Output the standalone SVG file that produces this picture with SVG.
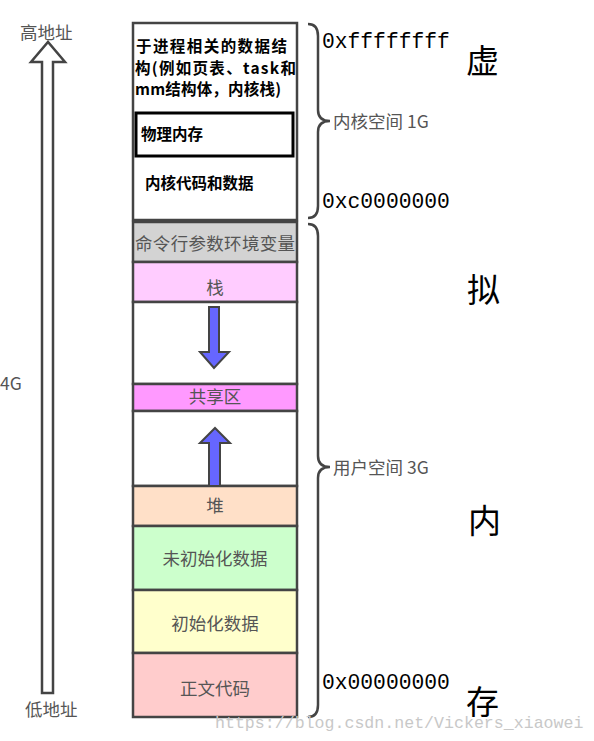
<svg xmlns="http://www.w3.org/2000/svg" width="594" height="741" viewBox="0 0 594 741">
<style>
.box{stroke:#444;stroke-width:2.5}
.lbl{font-family:"Noto Sans CJK SC","Noto Sans",sans-serif;font-size:17.5px;fill:#555;text-anchor:middle}
.kt{font-family:"Noto Sans CJK SC",sans-serif;font-size:15.5px;font-weight:bold;fill:#000}
.hex{font-family:"Liberation Mono","Noto Sans CJK SC",monospace;font-size:21.3px;fill:#000}
.big{font-family:"Noto Sans CJK SC",sans-serif;font-size:33px;fill:#000}
.side{font-family:"Noto Sans CJK SC","Noto Sans",sans-serif;font-size:17.5px;fill:#555}
.brace{fill:none;stroke:#444;stroke-width:2.5}
.arr{fill:#6666ff;stroke:#444;stroke-width:2}
</style>
<rect width="594" height="741" fill="#fff"/>
<g id="kernel">
<rect class="box" x="133" y="23" width="164" height="197" fill="#fff"/>
<text class="kt" x="136" y="52" textLength="151">于进程相关的数据结</text>
<text class="kt" x="135" y="74" textLength="161">构(例如页表、task和</text>
<text class="kt" x="135" y="95" textLength="146">mm结构体，内核栈)</text>
</g>
<g id="phys">
<rect x="136" y="113" width="157" height="43" fill="#fff" stroke="#000" stroke-width="3"/>
<text class="kt" x="141" y="140">物理内存</text>
</g>
<g id="kcode"><text class="kt" x="145" y="189">内核代码和数据</text></g>
<g id="env"><rect class="box" x="133" y="222" width="164" height="40" fill="#d3d3d3"/><text class="lbl" x="215" y="250" textLength="160">命令行参数环境变量</text></g>
<g id="stack"><rect class="box" x="133" y="262" width="164" height="40" fill="#ffccff"/><text class="lbl" x="215" y="294">栈</text></g>
<g id="gap1"><rect class="box" x="133" y="302" width="164" height="82" fill="#fff"/></g>
<g id="shared"><rect class="box" x="133" y="384" width="164" height="27" fill="#ff99ff"/><text class="lbl" x="215" y="403">共享区</text></g>
<g id="gap2"><rect class="box" x="133" y="411" width="164" height="75" fill="#fff"/></g>
<g id="heap"><rect class="box" x="133" y="486" width="164" height="40" fill="#ffe0c8"/><text class="lbl" x="215" y="512">堆</text></g>
<g id="bss"><rect class="box" x="133" y="526" width="164" height="64" fill="#ccffcc"/><text class="lbl" x="215" y="565">未初始化数据</text></g>
<g id="data"><rect class="box" x="133" y="590" width="164" height="63" fill="#ffffcc"/><text class="lbl" x="215" y="630">初始化数据</text></g>
<g id="text"><rect class="box" x="133" y="653" width="164" height="64" fill="#ffcccc"/><text class="lbl" x="215" y="695">正文代码</text></g>
<g id="connectors">
<path class="arr" d="M209 307 H219 V352 H229 L214 368 L200 352 H209 Z"/>
<path class="arr" d="M209 486 V443 H200 L215 428 L230 443 H220 V486 Z"/>
<path d="M42 693 V62 H31 L48 42 L65 62 H53 V693 Z" fill="#fff" stroke="#444" stroke-width="2.5"/>
<path class="brace" d="M308 24 Q318 24 318 36 V110 Q318 121 330 121 Q318 121 318 132 V206 Q318 218 308 218"/>
<path class="brace" d="M308 224 Q318 224 318 236 V456 Q318 467 330 467 Q318 467 318 478 V705 Q318 717 308 717"/>
</g>
<g id="labels">
<text class="side" x="20" y="39">高地址</text>
<text class="side" x="0" y="390">4G</text>
<text class="side" x="25" y="716">低地址</text>
<text class="side" x="333" y="128">内核空间 1G</text>
<text class="side" x="333" y="474">用户空间 3G</text>
<text class="hex" x="322" y="48">0xffffffff</text>
<text class="hex" x="322" y="208">0xc0000000</text>
<text class="hex" x="322" y="689">0x00000000</text>
<text class="big" x="466" y="73">虚</text>
<text class="big" x="467" y="302">拟</text>
<text class="big" x="468" y="533">内</text>
<text class="big" x="466" y="714">存</text>
<text x="215" y="728" font-family="Liberation Mono,monospace" font-size="16.6" fill="#c8c8c8">https://blog.csdn.net/Vickers_xiaowei</text>
</g>
</svg>
